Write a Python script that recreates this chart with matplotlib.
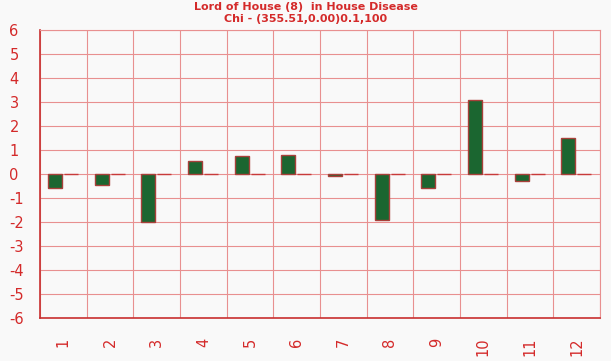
import matplotlib
matplotlib.use("Agg")
import matplotlib.pyplot as plt
import numpy as np

categories = ["1", "2", "3", "4", "5", "6", "7", "8", "9", "10", "11", "12"]
values = [-0.58, -0.45, -2.0, 0.56, 0.75, 0.8, -0.08, -1.92, -0.6, 3.1, -0.3, 1.48]
baseline = [0] * 12
yticks = list(range(-6, 7))

red = "#d42a2a"
fig = plt.figure(figsize=(6.11, 3.61), dpi=100)
fig.patch.set_facecolor("#f9f9f9")
ax = fig.add_axes([40/611, (361-318)/361, (600-40)/611, (318-30)/361])
ax.set_facecolor("#f9f9f9")

x = np.arange(len(categories))
w = 14/46.67
ax.bar(x - 0.5 + 8/46.67, values, width=w, align="edge", color="#1b6630",
       edgecolor="#a8403a", linewidth=1, zorder=3)
ax.bar(x - 0.5 + 24/46.67, baseline, width=w, align="edge", color="#c83a3a",
       edgecolor="#c83a3a", linewidth=1, zorder=3)

ax.set_xlim(-0.5, len(categories) - 0.5)
ax.set_ylim(-6, 6)
ax.set_yticks(yticks)
ax.set_yticklabels([str(t) for t in yticks], color=red, fontsize=10.5)
ax.set_xticks(x)
ax.set_xticklabels(categories, rotation=90, color=red, fontsize=10.5)
ax.set_xticks(np.arange(-0.5, len(categories)), minor=True)
ax.tick_params(axis="both", which="both", length=0)
ax.tick_params(axis="x", pad=14)
ax.grid(True, which="minor", axis="x", color="#e89090", linewidth=0.8)
ax.grid(True, which="major", axis="y", color="#e89090", linewidth=0.8)
for s in ["top", "right"]:
    ax.spines[s].set_color("#e89090")
    ax.spines[s].set_linewidth(0.8)
for s in ["left", "bottom"]:
    ax.spines[s].set_color("#c83030")
    ax.spines[s].set_linewidth(1.2)
for lbl in ax.get_yticklabels():
    lbl.set_horizontalalignment("left")
ax.tick_params(axis="y", pad=22)

fig.text(0.5, 1 - 7/361, "Lord of House (8)  in House Disease", ha="center", va="center",
         color=red, fontsize=8, fontweight="bold")
fig.text(0.5, 1 - 19/361, "Chi - (355.51,0.00)0.1,100", ha="center", va="center",
         color=red, fontsize=8, fontweight="bold")

fig.savefig("out.png", dpi=100, facecolor=fig.get_facecolor())
